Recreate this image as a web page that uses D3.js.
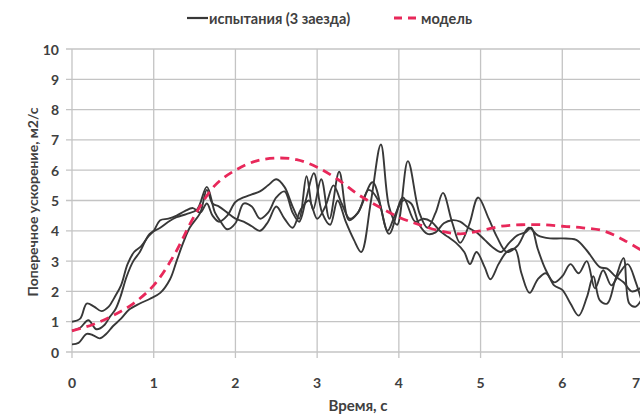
<!DOCTYPE html>
<html>
<head>
<meta charset="utf-8">
<script src="https://cdn.jsdelivr.net/npm/d3@7"></script>
<style>
  html, body { margin: 0; padding: 0; background: #fff; }
  svg { display: block; font-family: Lato, 'Open Sans', sans-serif; }
</style>
</head>
<body>
<svg id="chart" width="640" height="416"></svg>
<script>
// three test runs, [time s, accel m/s2]
const run1 = [
  [0, 1.0], [0.1, 1.1], [0.18, 1.6], [0.27, 1.5], [0.36, 1.35], [0.45, 1.5], [0.52, 1.8],
  [0.6, 2.2], [0.68, 2.9], [0.76, 3.3], [0.85, 3.5], [0.93, 3.8], [1.0, 4.0], [1.08, 4.35],
  [1.18, 4.4], [1.28, 4.5], [1.38, 4.65], [1.48, 4.75], [1.57, 4.6], [1.65, 4.9], [1.72, 4.5],
  [1.8, 4.3], [1.9, 4.5], [2.0, 4.95], [2.1, 5.1], [2.2, 5.2], [2.3, 5.3], [2.4, 5.5],
  [2.5, 5.7], [2.6, 5.45], [2.7, 4.8], [2.78, 4.4], [2.87, 5.8], [2.95, 4.7], [3.05, 5.7],
  [3.15, 4.4], [3.27, 5.95], [3.39, 4.35], [3.5, 4.6], [3.68, 5.6], [3.88, 3.9], [4.05, 5.1],
  [4.2, 4.3], [4.3, 4.4], [4.4, 4.3], [4.5, 4.0], [4.6, 3.8], [4.7, 3.6], [4.8, 3.3],
  [4.87, 2.9], [4.95, 3.3], [5.05, 2.8], [5.12, 2.4], [5.22, 2.9], [5.32, 3.3], [5.42, 3.4],
  [5.5, 2.6], [5.6, 1.95], [5.7, 2.4], [5.8, 2.6], [5.9, 2.2], [6.0, 2.05], [6.1, 1.6],
  [6.2, 1.2], [6.3, 1.8], [6.38, 2.5], [6.46, 1.7], [6.55, 1.6], [6.65, 2.4], [6.75, 3.1],
  [6.82, 1.6], [6.9, 1.5], [7.0, 1.9]
];
const run2 = [
  [0, 0.7], [0.1, 0.8], [0.2, 1.05], [0.3, 0.75], [0.4, 0.9], [0.46, 1.15], [0.53, 1.4],
  [0.59, 1.8], [0.67, 2.5], [0.75, 3.0], [0.83, 3.3], [0.95, 3.9], [1.08, 4.1], [1.18, 4.3],
  [1.28, 4.45], [1.4, 4.55], [1.53, 4.7], [1.65, 5.45], [1.75, 4.6], [1.82, 4.3], [1.9, 4.05],
  [2.0, 4.25], [2.1, 4.9], [2.2, 4.8], [2.3, 4.4], [2.4, 4.6], [2.5, 5.1], [2.6, 5.3],
  [2.7, 4.6], [2.78, 4.3], [2.86, 5.0], [2.96, 5.9], [3.06, 4.6], [3.16, 4.2], [3.25, 5.0],
  [3.35, 4.3], [3.45, 3.7], [3.54, 3.3], [3.66, 5.0], [3.78, 6.85], [3.88, 4.8], [3.98, 4.2],
  [4.11, 6.3], [4.25, 4.6], [4.35, 4.1], [4.45, 4.6], [4.54, 5.25], [4.65, 4.3], [4.75, 3.6],
  [4.86, 4.2], [4.97, 5.1], [5.1, 4.4], [5.2, 3.8], [5.32, 3.3], [5.45, 3.5], [5.59, 4.1],
  [5.7, 3.85], [5.85, 3.75], [6.0, 3.75], [6.17, 3.7], [6.3, 3.35], [6.46, 2.8], [6.55, 2.75],
  [6.65, 2.5], [6.75, 2.3], [6.85, 2.0], [6.95, 2.1], [7.0, 2.2]
];
const run3 = [
  [0, 0.25], [0.08, 0.3], [0.18, 0.6], [0.26, 0.55], [0.34, 0.45], [0.42, 0.6], [0.5, 0.85],
  [0.6, 1.1], [0.7, 1.4], [0.83, 1.6], [0.95, 1.75], [1.08, 1.95], [1.2, 2.4], [1.28, 3.0],
  [1.36, 3.6], [1.44, 4.1], [1.57, 4.6], [1.65, 5.35], [1.72, 4.9], [1.8, 4.8], [1.9, 4.6],
  [2.0, 4.4], [2.1, 4.3], [2.2, 4.15], [2.3, 4.0], [2.4, 4.3], [2.5, 4.8], [2.6, 4.4],
  [2.7, 4.1], [2.8, 4.7], [2.9, 5.0], [3.0, 4.4], [3.1, 4.8], [3.2, 5.5], [3.3, 4.9],
  [3.4, 4.4], [3.5, 4.6], [3.63, 5.35], [3.75, 5.0], [3.86, 4.0], [3.95, 4.5], [4.05, 5.0],
  [4.15, 4.9], [4.25, 4.2], [4.35, 3.9], [4.45, 3.95], [4.55, 4.25], [4.65, 4.35], [4.75, 4.3],
  [4.85, 4.1], [4.95, 3.95], [5.05, 3.7], [5.15, 3.45], [5.25, 3.3], [5.35, 3.6], [5.45, 3.85],
  [5.55, 3.95], [5.62, 4.1], [5.7, 3.4], [5.8, 2.7], [5.9, 2.3], [6.0, 2.5], [6.1, 2.9],
  [6.2, 2.6], [6.3, 3.0], [6.4, 2.1], [6.5, 2.7], [6.6, 2.2], [6.7, 2.6], [6.8, 2.9],
  [6.9, 2.3], [7.0, 1.4]
];
// model curve
const model = [
  [0, 0.7], [0.25, 0.9], [0.5, 1.2], [0.75, 1.6], [1, 2.2], [1.25, 3.2], [1.5, 4.5],
  [1.75, 5.5], [2, 6.0], [2.25, 6.3], [2.5, 6.4], [2.75, 6.35], [3, 6.1], [3.25, 5.7],
  [3.5, 5.2], [3.75, 4.8], [4, 4.45], [4.25, 4.2], [4.5, 4.0], [4.75, 3.9], [5, 4.0],
  [5.25, 4.15], [5.5, 4.2], [5.75, 4.2], [6, 4.15], [6.25, 4.1], [6.5, 4.0], [6.75, 3.7],
  [7, 3.3]
];
const xTicks = [0, 1, 2, 3, 4, 5, 6, 7];
const yTicks = [0, 1, 2, 3, 4, 5, 6, 7, 8, 9, 10];
const legendLabels = ['испытания (3 заезда)', 'модель'];

const TXT = '#404040';
const GRID = '#c4c4c4';
const RUN = '#383838';
const MODEL = '#e8285a';

const svg = d3.select('#chart');
const x = d3.scaleLinear().domain([0, 7]).range([72, 644]);
const y = d3.scaleLinear().domain([0, 10]).range([352, 49]);

// grid
svg.append('g')
  .selectAll('line').data(yTicks).join('line')
  .attr('x1', 66).attr('x2', 644)
  .attr('y1', d => y(d)).attr('y2', d => y(d))
  .attr('stroke', GRID).attr('stroke-width', 1.3);
svg.append('g')
  .selectAll('line').data(xTicks).join('line')
  .attr('x1', d => x(d)).attr('x2', d => x(d))
  .attr('y1', y(10)).attr('y2', y(0) + 6)
  .attr('stroke', GRID).attr('stroke-width', 1.3);

// tick labels
svg.append('g')
  .selectAll('text').data(yTicks).join('text')
  .attr('x', 59).attr('y', d => y(d))
  .attr('text-anchor', 'end').attr('dominant-baseline', 'central')
  .attr('fill', TXT).attr('font-size', 14).attr('font-weight', 'bold')
  .text(d => d);
// last x label sits on the cropped right edge, like the source
svg.append('g')
  .selectAll('text').data(xTicks).join('text')
  .attr('x', d => Math.min(x(d), 636)).attr('y', 382)
  .attr('text-anchor', 'middle').attr('dominant-baseline', 'central')
  .attr('fill', TXT).attr('font-size', 14).attr('font-weight', 'bold')
  .text(d => d);

// axis titles
svg.append('text')
  .attr('x', 358).attr('y', 405)
  .attr('text-anchor', 'middle').attr('dominant-baseline', 'central')
  .attr('fill', TXT).attr('font-size', 15).attr('font-weight', 'bold')
  .text('Время, с');
svg.append('text')
  .attr('transform', 'translate(32,202) rotate(-90)')
  .attr('text-anchor', 'middle').attr('dominant-baseline', 'central')
  .attr('fill', TXT).attr('font-size', 14).attr('font-weight', 'bold')
  .text('Поперечное ускорение, м2/с');

// lines
const line = d3.line()
  .x(d => x(d[0])).y(d => y(d[1]))
  .curve(d3.curveCatmullRom.alpha(0.5));

svg.append('g')
  .selectAll('path').data([run1, run2, run3]).join('path')
  .attr('d', line)
  .attr('fill', 'none').attr('stroke', RUN).attr('stroke-width', 1.9);

svg.append('path')
  .attr('d', line(model))
  .attr('fill', 'none').attr('stroke', MODEL).attr('stroke-width', 2.8)
  .attr('stroke-dasharray', '9,6');

// legend
const leg = svg.append('g').attr('font-size', 14.5).attr('font-weight', 'bold').attr('fill', TXT);
leg.append('line').attr('x1', 187).attr('x2', 208).attr('y1', 18).attr('y2', 18)
  .attr('stroke', RUN).attr('stroke-width', 2.2);
leg.append('text').attr('x', 209).attr('y', 18).attr('dominant-baseline', 'central')
  .text(legendLabels[0]);
leg.append('line').attr('x1', 394).attr('x2', 420).attr('y1', 18).attr('y2', 18)
  .attr('stroke', MODEL).attr('stroke-width', 2.8).attr('stroke-dasharray', '8,6');
leg.append('text').attr('x', 421).attr('y', 18).attr('dominant-baseline', 'central')
  .text(legendLabels[1]);
</script>
</body>
</html>
